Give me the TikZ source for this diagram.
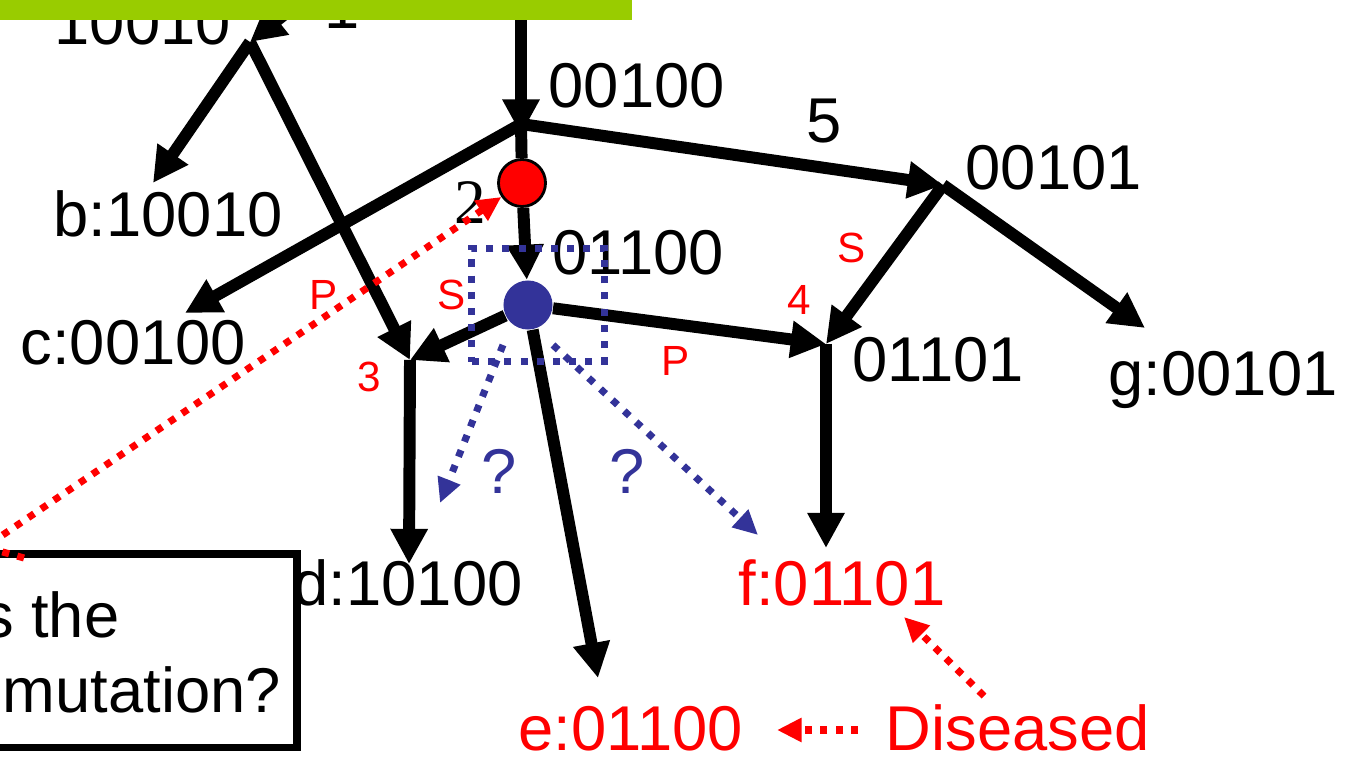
\documentclass[tikz,border=0pt]{standalone}
\usepackage{fontspec}
\setmainfont{Liberation Sans}
\newfontfamily\serifdigit{Liberation Serif}
\usetikzlibrary{arrows.meta}
\definecolor{slidegreen}{HTML}{99CC00}
\definecolor{nodeblue}{HTML}{333399}
\tikzset
{
  link/.style={line width=3.4pt,-{Triangle[length=10pt,width=10pt]}},
  branch/.style={line width=3.4pt},
  seq/.style={font=\fontsize{18}{21}\selectfont,inner sep=0pt},
  tag/.style={text=red,font=\fontsize{12}{14}\selectfont,inner sep=0pt},
  hint/.style={draw=red,line width=2pt,dash pattern=on 2pt off 2.4pt,-{Triangle[length=7pt,width=6.5pt]}},
  guess/.style={draw=nodeblue,line width=2pt,dash pattern=on 2pt off 2.6pt,-{Triangle[length=7pt,width=6.5pt]}}
}
\begin{document}
\begin{tikzpicture}[x=0.01cm,y=-0.01cm]
  \useasboundingbox (0,0) rectangle (1346,764);

  % Junctions and arrow ends
  \coordinate (root) at (390,-70);
  \coordinate (top) at (521,-10);
  \coordinate (T) at (250,42);
  \coordinate (A) at (521,124);
  \coordinate (N5) at (943,185);
  \coordinate (D3) at (410,360);
  \coordinate (D4) at (826,344);
  \coordinate (btip) at (153,183);
  \coordinate (ctip) at (185,313);
  \coordinate (dtip) at (409,564);
  \coordinate (etip) at (598,678);
  \coordinate (ftip) at (826,548);
  \coordinate (gtip) at (1145,328);

  % Mutation nodes
  \node[circle,fill=red,draw=black,line width=0.8pt,minimum size=0.47cm,inner sep=0pt] (R) at (522,183) {};
  \node[circle,fill=nodeblue,minimum size=0.49cm,inner sep=0pt] (B) at (528,305) {};

  % Sequence labels
  \node[seq,anchor=base west] (lT) at (54,45) {10010};
  \node[seq,anchor=base west] (one) at (324,29) {1};
  \node[seq,anchor=base west] (lA) at (548,108) {00100};
  \node[seq,anchor=base west] (five) at (806,143) {5};
  \node[seq,anchor=base west] (lN5) at (965,190) {00101};
  \node[seq,anchor=base west] (lB) at (552,275) {01100};
  \node[seq,anchor=base west] (lD4) at (852,382) {01101};
  \node[seq,anchor=base west] (b) at (53,237) {b:10010};
  \node[seq,anchor=base west] (c) at (20,364) {c:00100};
  \node[seq,anchor=base west] (d) at (293,605) {d:10100};
  \node[seq,anchor=base west] (g) at (1108,395) {g:00101};
  \node[seq,anchor=base west,text=red] (e) at (518,750) {e:01100};
  \node[seq,anchor=base west,text=red] (f) at (738,605) {f:01101};
  \node[seq,anchor=base west,text=red] (sick) at (885,750) {Diseased};
  \node[anchor=base west,inner sep=0pt,font=\serifdigit\fontsize{18}{21}\selectfont] (two) at (454,224) {2};

  % Edge labels
  \node[tag,anchor=base west] (p1) at (309,310) {P};
  \node[tag,anchor=base west] (s1) at (437,310) {S};
  \node[tag,anchor=base west] (three) at (357,392) {3};
  \node[tag,anchor=base west] (four) at (787,315) {4};
  \node[tag,anchor=base west] (p2) at (661,376) {P};
  \node[tag,anchor=base west] (s2) at (837,263) {S};

  % Tree edges
  \draw[link] (root) -- (T);
  \draw[link] (T) -- (btip);
  \draw[link] (T) -- (D3);
  \draw[link,shorten >=-3pt] (top) -- (A);
  \draw[link] (A) -- (ctip);
  \draw[link] (A) -- (N5);
  \draw[branch] (A) -- (R);
  \draw[link] (R) -- (B);
  \draw[link] (B) -- (D3);
  \draw[link] (B) -- (D4);
  \draw[link] (B) -- (etip);
  \draw[link] (N5) -- (D4);
  \draw[link] (N5) -- (gtip);
  \draw[link] (D3) -- (dtip);
  \draw[link] (D4) -- (ftip);

  % Uncertain branches
  \node[draw=nodeblue,line width=2pt,dash pattern=on 2pt off 2.6pt,minimum width=1.32cm,minimum height=1.13cm,inner sep=0pt] (focus) at (538,305) {};
  \coordinate (gL) at (503,345);
  \coordinate (gLtip) at (440,503);
  \coordinate (gR) at (553,345);
  \coordinate (gRtip) at (758,535);
  \draw[guess] (gL) -- (gLtip);
  \draw[guess] (gR) -- (gRtip);
  \node[seq,anchor=base,text=nodeblue] (q1) at (499,493) {?};
  \node[seq,anchor=base,text=nodeblue] (q2) at (627,493) {?};

  % Question box
  \node[draw,fill=white,line width=2pt,outer sep=0pt,anchor=north east,minimum width=3.4cm,minimum height=1.93cm] (quest) at (297,554) {};
  \node[seq,anchor=base east] (qtop) at (120,637) {s the};
  \node[seq,anchor=base west] (qbot) at (2,712) {mutation?};

  % Pointers
  \coordinate (qstart) at (24,558);
  \coordinate (qbend) at (-15,547);
  \draw[hint] (qstart) -- (qbend) -- (R);
  \coordinate (sickL) at (858,730);
  \coordinate (sickU) at (984,696);
  \coordinate (etag) at (777,730);
  \coordinate (ftag) at (904,617);
  \draw[hint] (sickL) -- (etag);
  \draw[hint] (sickU) -- (ftag);

  % Title bar
  \fill[slidegreen] (0,0) rectangle (632,20);
\end{tikzpicture}
\end{document}
